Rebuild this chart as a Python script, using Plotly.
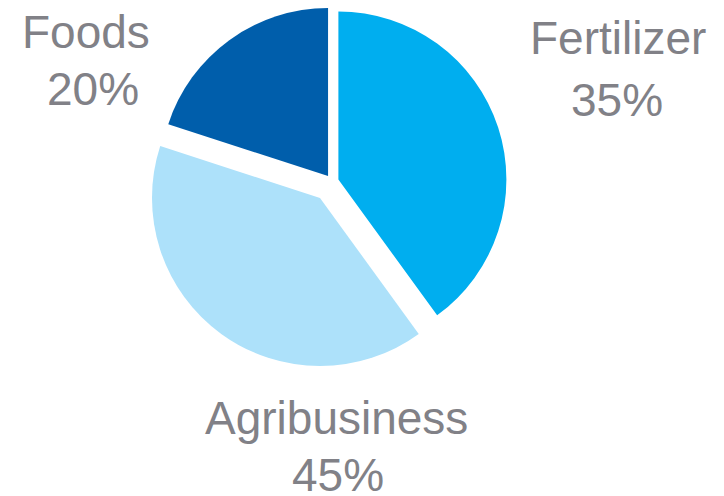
import plotly.graph_objects as go

# Data
categories = ["Fertilizer", "Agribusiness", "Foods"]
slice_values = [40, 40, 20]          # slice sizes as drawn
share_labels = ["35%", "45%", "20%"]  # printed labels
colors = ["#00AEEF", "#ADE1FA", "#005EAB"]

W, H = 724, 496
TRANSPARENT = "rgba(0,0,0,0)"


def dom(cx, cy, half):
    return dict(x=[(cx - half) / W, (cx + half) / W],
                y=[1 - (cy + half) / H, 1 - (cy - half) / H])


r = 168
# Trace with Fertilizer and Foods (slightly exploded)
pull_small = 0.04
colors_a = [colors[0], TRANSPARENT, colors[2]]
# Trace with Agribusiness (exploded further)
colors_b = [TRANSPARENT, colors[1], TRANSPARENT]

fig = go.Figure()
fig.add_trace(go.Pie(
    labels=categories, values=slice_values, sort=False, direction="clockwise",
    rotation=0, marker=dict(colors=colors_a, line=dict(width=0)),
    pull=[pull_small, 0, pull_small], textinfo="none", hoverinfo="label+value",
    domain=dom(332, 181.5, r * (1 + pull_small)), showlegend=False,
))
fig.add_trace(go.Pie(
    labels=categories, values=slice_values, sort=False, direction="clockwise",
    rotation=0, marker=dict(colors=colors_b, line=dict(width=0)),
    textinfo="none", hoverinfo="label+value",
    domain=dom(320, 198, r), showlegend=False,
))

label_font = dict(family="Liberation Sans, Arial, sans-serif", size=46, color="#818187")
# (x center, name baseline, pct x center, pct baseline) in pixels
label_pos = {
    "Fertilizer": (617.5, 53.5, 616.5, 115.5),
    "Agribusiness": (336.5, 433.5, 337.5, 490.5),
    "Foods": (86, 48, 93, 104.5),
}
shift = 0.3465 * 46
annotations = []
for name, pct in zip(categories, share_labels):
    nx, ny, px, py = label_pos[name]
    for txt, x, y in ((name, nx, ny), (pct, px, py)):
        annotations.append(dict(
            text=txt, x=x / W, y=1 - (y - shift) / H, xref="paper", yref="paper",
            xanchor="center", yanchor="middle", showarrow=False, font=label_font,
        ))

fig.update_layout(
    width=W, height=H, margin=dict(l=0, r=0, t=0, b=0),
    paper_bgcolor="white", plot_bgcolor="white",
    annotations=annotations,
)
fig.write_html(
    "out.html",
    config={"displayModeBar": False},
    post_script="document.body.style.margin='0';document.body.style.overflow='hidden';",
)
